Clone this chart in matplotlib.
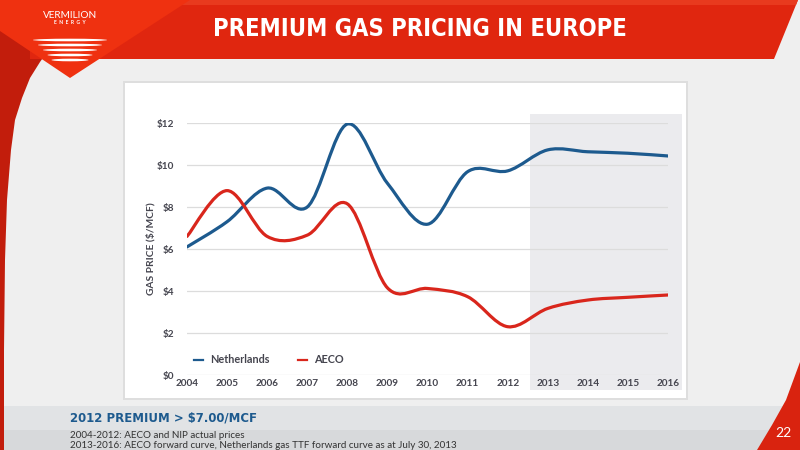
import numpy as np
import matplotlib
matplotlib.use("Agg")
import matplotlib.pyplot as plt
from matplotlib.path import Path
from matplotlib.patches import PathPatch, Rectangle, Polygon, Ellipse
from matplotlib.lines import Line2D
from matplotlib import font_manager

# ---------------- data ----------------
years = [2004, 2005, 2006, 2007, 2008, 2009, 2010, 2011, 2012, 2013, 2014, 2015, 2016]
netherlands = [6.1, 7.3, 8.9, 8.0, 11.95, 9.13, 7.18, 9.68, 9.72, 10.72, 10.63, 10.56, 10.43]
aeco = [6.6, 8.78, 6.6, 6.66, 8.15, 4.15, 4.12, 3.73, 2.3, 3.17, 3.57, 3.7, 3.81]
series_names = ["Netherlands", "AECO"]
yticks = [0, 2, 4, 6, 8, 10, 12]
ytick_labels = ["$0", "$2", "$4", "$6", "$8", "$10", "$12"]
forecast_start = 2012.55
title = "PREMIUM GAS PRICING IN EUROPE"
subtitle = "2012 PREMIUM > $7.00/MCF"
notes = ["2004-2012: AECO and NIP actual prices",
         "2013-2016: AECO forward curve, Netherlands gas TTF forward curve as at July 30, 2013"]
page = "22"

# ---------------- fonts ----------------
names = {f.name for f in font_manager.fontManager.ttflist}
def pick(cands):
    for c in cands:
        if c in names:
            return c
    return "DejaVu Sans"
body = pick(["Lato", "Open Sans", "Roboto", "DejaVu Sans"])
if "Liberation Sans Narrow" in names:
    cond = dict(family="Liberation Sans Narrow", weight="bold")
elif any(f.name == "DejaVu Sans" and f.stretch == "condensed" for f in font_manager.fontManager.ttflist):
    cond = dict(family="DejaVu Sans", weight="bold", stretch="condensed")
else:
    cond = dict(family=pick(["Roboto", "Open Sans", "DejaVu Sans"]), weight="bold")

BLUE = "#1d5a8e"
RED = "#d9261c"
TXT = "#45454f"

fig = plt.figure(figsize=(8, 4.5), dpi=100)
fig.patch.set_facecolor("#efefef")

# ---------------- slide decoration ----------------
bg = fig.add_axes([0, 0, 1, 1], zorder=0)
bg.set_xlim(0, 800)
bg.set_ylim(450, 0)
bg.axis("off")

# bottom band
bg.add_patch(Rectangle((0, 406), 800, 44, color="#e1e3e5", lw=0))
bg.add_patch(Rectangle((0, 430), 800, 20, color="#d7d9db", lw=0))

# left red arc region
arc = [(0, 0), (70, 0), (52, 45), (40, 62), (30, 78), (22, 98), (15, 120), (11, 150),
       (7, 200), (5, 260), (4, 350), (4, 450), (0, 450)]
bg.add_patch(Polygon(arc, closed=True, color="#c21d0c", lw=0))
# banner
bg.add_patch(Polygon([(30, 0), (798, 0), (774, 59), (30, 59)], closed=True, color="#e0260f", lw=0))
bg.add_patch(Polygon([(30, 0), (798, 0), (796, 5), (30, 5)], closed=True, color="#e83a1e", lw=0))
# logo triangle
bg.add_patch(Polygon([(0, 0), (190, 0), (70, 78), (0, 31)], closed=True, color="#ef3110", lw=0))
# logo stripes
for yy, w in zip([40, 45, 50, 55, 60], [74, 64, 54, 45, 37]):
    bg.add_patch(Ellipse((70, yy), w, 2.6, color="white", lw=0))
bg.text(70, 15, "VERMILION", color="white", fontsize=7.2, ha="center", va="center",
        family=body)
bg.text(70, 23, "E  N  E  R  G  Y", color="white", fontsize=3.6, ha="center", va="center",
        family=body, weight="bold")

# bottom-right red corner
bg.add_patch(Polygon([(800, 362), (800, 450), (757, 450), (772, 425), (786, 400)],
                     closed=True, color="#d9230f", lw=0))
bg.text(783, 433, page, color="white", fontsize=10, ha="center", va="center", family=body)

# chart panel
bg.add_patch(Rectangle((123, 81), 565, 319, color="#dedede", lw=0))
bg.add_patch(Rectangle((125, 83), 561, 315, facecolor="white", edgecolor="none"))

# title
bg.text(420, 29, title, color="white", fontsize=17, ha="center", va="center", **cond)

# subtitle and notes
bg.text(70, 418, subtitle, color=BLUE, fontsize=9.4, ha="left", va="center", **cond)
bg.text(70, 435.5, notes[0], color="#333333", fontsize=7.1, ha="left", va="center", family=body)
bg.text(70, 445.5, notes[1], color="#333333", fontsize=7.1, ha="left", va="center", family=body)

# ---------------- chart ----------------
ax = fig.add_axes([187 / 800, 75 / 450, 481 / 800, 252 / 450], zorder=2)
ax.set_facecolor("none")
ax.set_xlim(years[0], years[-1])
ax.set_ylim(0, 12)
for s in ax.spines.values():
    s.set_visible(False)

# forecast shading
ax.add_patch(Rectangle((forecast_start, -0.7), years[-1] + 0.35 - forecast_start, 13.15,
                       facecolor="#ebebee", edgecolor="none", clip_on=False, zorder=0))

ax.set_yticks(yticks)
ax.set_yticklabels(ytick_labels)
ax.set_xticks(years)
ax.set_xticklabels([str(y) for y in years])
ax.tick_params(axis="both", length=0, colors=TXT, labelsize=7.2)
ax.tick_params(axis="y", pad=9)
ax.tick_params(axis="x", pad=3)
for lab in ax.get_xticklabels() + ax.get_yticklabels():
    lab.set_family(body)
    lab.set_weight("bold")
ax.grid(axis="y", color="#dcdcdc", lw=0.9, zorder=1)
ax.grid(axis="x", visible=False)

ax.set_ylabel("GAS PRICE ($/MCF)", color=TXT, fontsize=7.4, family=body, weight="bold")
ax.yaxis.set_label_coords((155 - 187) / 481, 0.5)


def smooth_path(xs, ys):
    pts = np.column_stack([xs, ys]).astype(float)
    P = np.vstack([pts[0], pts, pts[-1]])
    verts = [pts[0]]
    codes = [Path.MOVETO]
    for i in range(1, len(P) - 2):
        p0, p1, p2, p3 = P[i - 1], P[i], P[i + 1], P[i + 2]
        verts += [p1 + (p2 - p0) / 6, p2 - (p3 - p1) / 6, p2]
        codes += [Path.CURVE4] * 3
    return Path(verts, codes)


for vals, col in [(netherlands, BLUE), (aeco, RED)]:
    ax.add_patch(PathPatch(smooth_path(years, vals), facecolor="none", edgecolor=col,
                           lw=2.3, capstyle="round", joinstyle="round", zorder=3))

handles = [Line2D([], [], color=BLUE, lw=1.6), Line2D([], [], color=RED, lw=1.6)]
leg = ax.legend(handles, series_names, loc="center left", bbox_to_anchor=(0.015, 0.06),
                ncol=2, frameon=False, handlelength=0.8, handletextpad=0.7,
                columnspacing=2.6, borderpad=0, borderaxespad=0,
                prop=dict(family=body, weight="bold", size=7.8))
for t in leg.get_texts():
    t.set_color(TXT)

fig.savefig("out.png", dpi=100, facecolor=fig.get_facecolor())
